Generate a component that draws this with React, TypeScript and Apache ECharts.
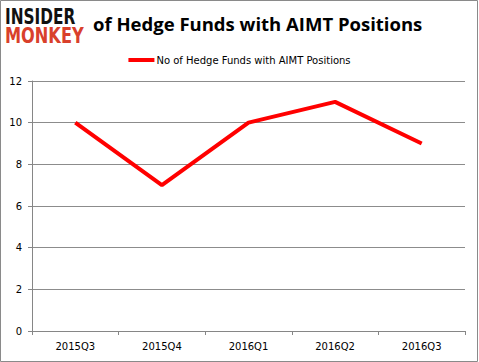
import React, { useEffect, useRef } from "react";
import * as echarts from "echarts";

const categories = ["2015Q3", "2015Q4", "2016Q1", "2016Q2", "2016Q3"];
const values = [10, 7, 10, 11, 9];
const seriesName = "No of Hedge Funds with AIMT Positions";
const titleText = "of Hedge Funds with AIMT Positions";

export default function App() {
  const ref = useRef<HTMLDivElement>(null);
  useEffect(() => {
    if (!ref.current) return;
    const chart = echarts.init(ref.current, null, { renderer: "svg" });
    chart.setOption({
      animation: false,
      backgroundColor: "#ffffff",
      title: {
        text: titleText,
        left: 88,
        top: 9,
        textStyle: { fontFamily: "Open Sans", fontWeight: "bold", fontSize: 18.5, color: "#000" },
      },
      legend: {
        data: [seriesName],
        top: 50,
        left: "center",
        itemWidth: 26,
        itemHeight: 4,
        itemGap: 2,
        icon: "rect",
        textStyle: { fontFamily: "DejaVu Sans", fontSize: 10, color: "#000", padding: [0, 0, 0, -3] },
      },
      grid: { left: 32, right: 14, top: 81, bottom: 31 },
      xAxis: {
        type: "category",
        data: categories,
        boundaryGap: true,
        axisLine: { lineStyle: { color: "#868686", width: 1 } },
        axisTick: { show: true, length: 4, lineStyle: { color: "#868686" } },
        axisLabel: { fontFamily: "DejaVu Sans", fontSize: 10, color: "#000", margin: 10 },
      },
      yAxis: {
        type: "value",
        min: 0,
        max: 12,
        interval: 2,
        axisLine: { show: true, lineStyle: { color: "#868686", width: 1 } },
        axisTick: { show: true, length: 4, lineStyle: { color: "#868686" } },
        axisLabel: { fontFamily: "DejaVu Sans", fontSize: 10, color: "#000", margin: 10 },
        splitLine: { lineStyle: { color: "#8c8c8c", width: 1 } },
      },
      series: [
        {
          name: seriesName,
          type: "line",
          data: values,
          symbol: "none",
          lineStyle: { color: "#ff0000", width: 4 },
          itemStyle: { color: "#ff0000" },
        },
      ],
      graphic: [
        {
          type: "rect",
          shape: { x: 0.5, y: 0.5, width: 477, height: 361 },
          style: { fill: "none", stroke: "#8a8a8a", lineWidth: 1 },
        },
        {
          type: "text",
          x: 5,
          y: 6,
          scaleX: 0.73,
          style: { text: "INSIDER", font: "bold 21px 'DejaVu Sans'", fill: "#111111" },
        },
        {
          type: "text",
          x: 5,
          y: 25,
          scaleX: 0.77,
          style: { text: "MONKEY", font: "bold 21px 'DejaVu Sans'", fill: "#d9402b" },
        },
      ],
    });
    return () => chart.dispose();
  }, []);
  return <div ref={ref} style={{ position: "fixed", left: 0, top: 0, width: 479, height: 362 }} />;
}
